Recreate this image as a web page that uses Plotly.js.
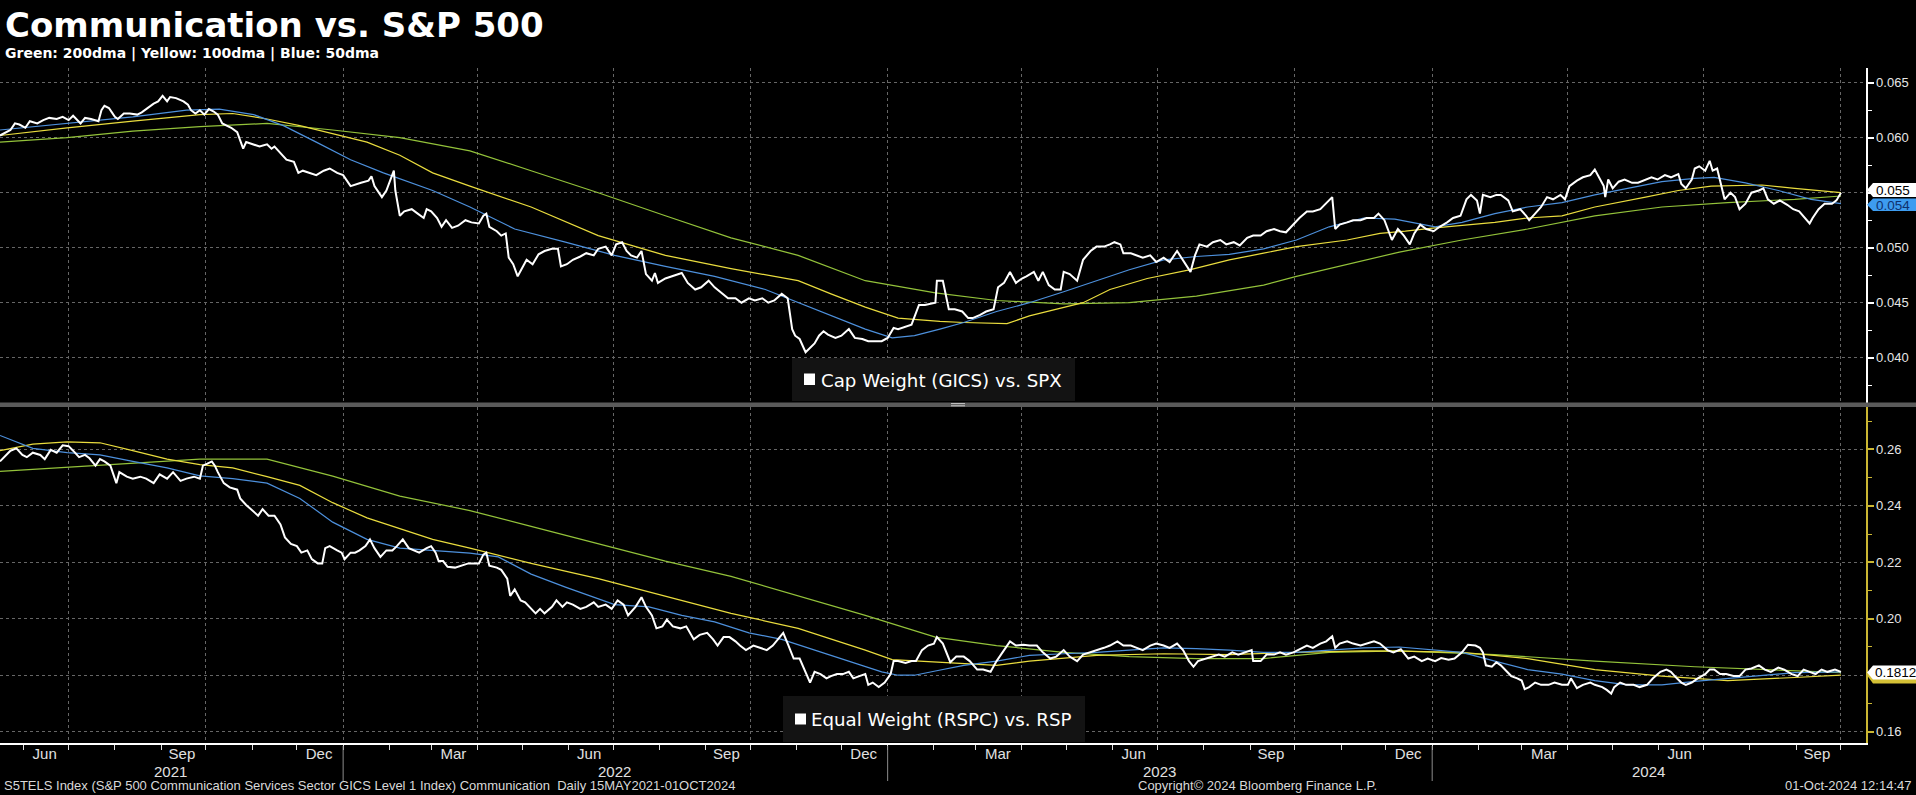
<!DOCTYPE html>
<html><head><meta charset="utf-8">
<script src="https://cdn.plot.ly/plotly-3.0.1.min.js"></script>
<style>html,body{margin:0;padding:0;background:#000;}#chart{width:1916px;height:795px;}</style>
</head><body><div id="chart"></div>
<script>
// ---------- DATA ----------
// x values are day offsets from the chart start date 2021-05-16
const START_DATE = '2021-05-16';
const END_DATE = '2024-10-17 19:00';

const topWhiteDay = [0,3,7,10,13,17,20,25,29,33,38,42,46,49,54,57,61,66,68,70,73,75,77,79,83,87,92,95,98,103,106,109,112,114,118,123,126,128,131,134,137,140,143,146,149,152,155,159,161,163,165,170,174,179,182,184,188,192,197,200,203,208,212,217,221,226,230,235,238,242,247,249,251,256,259,262,264,265,268,271,276,280,284,286,289,293,296,299,303,307,
312,316,321,324,326,328,333,336,339,341,344,347,350,353,357,361,365,370,374,376,380,384,389,393,398,401,406,410,413,417,420,423,427,430,433,437,439,441,446,450,457,461,466,470,475,479,484,488,493,497,502,506,511,515,519,524,528,531,533,536,540,543,546,549,552,555,560,564,569,573,578,582,587,591,595,599,602,607,611,616,620,
627,628,632,636,640,645,649,652,657,661,666,669,673,677,681,685,688,693,696,699,703,707,711,713,717,722,726,731,735,740,744,747,751,753,758,762,766,771,775,780,784,789,793,798,801,804,809,813,818,822,827,831,836,840,845,849,854,858,862,867,871,876,880,885,889,893,895,898,903,907,912,916,921,924,928,933,
937,941,945,948,952,956,961,965,970,974,979,983,986,990,992,994,999,1003,1006,1011,1014,1019,1023,1025,1029,1033,1037,1041,1046,1049,1052,1057,1061,1066,1069,1072,1075,1076,1078,1081,1085,1089,1094,1098,1103,1107,1111,1116,1120,1125,1127,1130,1134,1136,1139,1143,1146,1148,1151,1153,1156,1160,1163,1166,1170,1174,1179,1182,1185,1189,1193,1198,1202,1206,1210,1213,1215,1219,1223,1228,1231,1234];
const topWhiteVal = [.0602,.0604,.0607,.0613,.0612,.0609,.0615,.0613,.0616,.0618,.0617,.0619,.0616,.0620,.0613,.0618,.0617,.0615,.0625,.0629,.0627,.0623,.0619,.0617,.0622,.0622,.0621,.0623,.0626,.0631,.0633,.0638,.0633,.0637,.0636,.0633,.0630,.0625,.0622,.0625,.0621,.0626,.0624,.0621,.0613,.0611,.0609,.0605,.0598,.0590,.0596,.0594,.0592,.0594,.0590,.0592,.0586,.0580,.0578,.0568,.0570,.0568,.0566,.0570,.0572,.0568,.0566,.0556,.0557,.0559,.0561,.0565,.0556,.0546,.0552,.0562,.0570,.0552,.0529,.0533,.0535,.0531,.0527,.0535,.0533,.0527,.0519,.0525,.0518,.0520,
.0525,.0523,.0522,.0529,.0531,.0519,.0515,.0511,.0513,.0491,.0485,.0474,.0481,.0489,.0485,.0494,.0497,.0499,.0499,.0483,.0485,.0489,.0492,.0495,.0493,.0499,.0501,.0493,.0503,.0505,.0497,.0493,.0491,.0497,.0476,.0470,.0477,.0468,.0472,.0474,.0477,.0468,.0462,.0464,.0470,.0464,.0458,.0454,.0454,.0450,.0454,.0452,.0454,.0450,.0452,.0458,.0454,.0426,.0420,.0417,.0405,.0409,.0413,.0420,.0424,.0421,.0418,.0420,.0426,.0418,.0417,.0415,.0415,.0415,.0418,.0427,.0426,.0428,.0430,.0448,.0448,
.0450,.0470,.0470,.0444,.0444,.0442,.0436,.0436,.0439,.0442,.0444,.0464,.0468,.0478,.0468,.0472,.0474,.0478,.0470,.0478,.0466,.0462,.0462,.0478,.0476,.0470,.0489,.0497,.0501,.0501,.0503,.0505,.0503,.0495,.0495,.0493,.0491,.0493,.0487,.0491,.0487,.0497,.0489,.0478,.0493,.0503,.0501,.0505,.0507,.0503,.0505,.0502,.0509,.0511,.0511,.0515,.0517,.0515,.0514,.0521,.0527,.0533,.0533,.0535,.0541,.0546,.0517,.0521,.0523,.0525,.0525,.0527,.0527,.0531,.0525,.0507,
.0517,.0511,.0503,.0513,.0521,.0517,.0515,.0519,.0523,.0527,.0529,.0544,.0548,.0543,.0531,.0548,.0546,.0548,.0548,.0543,.0533,.0535,.0529,.0525,.0531,.0537,.0546,.0544,.0548,.0544,.0556,.0561,.0564,.0566,.0571,.0564,.0556,.0546,.0562,.0554,.0560,.0562,.0559,.0559,.0562,.0564,.0562,.0566,.0564,.0567,.0558,.0554,.0562,.0572,.0574,.0570,.0579,.0570,.0572,.0560,.0544,.0550,.0546,.0535,.0540,.0550,.0552,.0554,.0544,.0540,.0543,.0539,.0535,.0533,.0527,.0522,.0527,.0535,.0540,.0540,.0543,.0550];

const topBlueDay = [0,45,89,125,147,170,190,212,235,257,290,315,345,379,412,446,479,513,535,557,580,598,613,630,646,668,690,713,735,757,780,802,824,847,869,891,914,935,962,980,1002,1024,1047,1069,1091,1114,1136,1149,1170,1192,1214,1234];
const topBlueVal = [.0607,.0613,.0619,.0625,.0626,.0621,.0611,.0596,.0580,.0568,.0552,.0537,.0517,.0505,.0493,.0483,.0474,.0462,.0450,.0438,.0426,.0418,.0420,.0426,.0432,.0442,.0450,.0460,.0470,.0480,.0489,.0492,.0494,.0499,.0507,.0519,.0527,.0526,.0519,.0523,.0531,.0537,.0541,.0548,.0554,.0560,.0563,.0564,.0559,.0552,.0544,.0540];

const topYellowDay = [0,45,89,134,156,179,201,223,246,268,290,315,356,401,446,490,502,535,557,580,602,630,646,675,690,726,744,769,798,824,847,869,903,925,942,962,1002,1024,1047,1069,1103,1125,1147,1181,1203,1234];
const topYellowVal = [.0602,.0609,.0615,.0621,.0622,.0617,.0611,.0604,.0596,.0584,.0568,.0556,.0537,.0511,.0493,.0481,.0478,.0470,.0458,.0446,.0436,.0433,.0432,.0431,.0438,.0450,.0462,.0472,.0480,.0489,.0495,.0501,.0507,.0513,.0515,.0518,.0523,.0527,.0529,.0537,.0546,.0552,.0556,.0557,.0554,.0550];

const topGreenDay = [0,45,89,134,179,223,268,315,356,401,446,490,535,580,627,668,713,757,802,847,869,903,938,980,1024,1069,1114,1158,1203,1234];
const topGreenVal = [.0596,.0600,.0606,.0610,.0613,.0607,.0600,.0588,.0570,.0550,.0529,.0509,.0493,.0470,.0459,.0452,.0449,.0450,.0456,.0466,.0474,.0485,.0496,.0507,.0517,.0529,.0537,.0541,.0544,.0547];

const botWhiteDay = [0,3,7,11,15,18,22,27,30,34,38,42,46,49,53,57,60,64,67,70,74,76,78,80,85,89,94,98,103,107,112,116,121,125,130,134,136,139,142,144,146,150,154,159,161,165,170,173,176,180,184,188,191,195,199,202,206,209,213,216,218,221,226,229,231,235,238,241,245,248,251,255,259,263,266,270,274,277,281,286,289,292,294,297,300,305,309,314,
321,324,326,328,333,336,340,342,345,349,352,355,359,362,365,370,373,377,380,384,389,393,398,401,406,410,414,418,421,426,430,433,437,440,444,447,451,456,460,465,469,474,478,481,485,489,493,496,500,505,509,514,518,523,525,528,532,536,540,543,546,550,554,557,561,565,569,572,576,580,582,585,589,593,597,599,602,607,611,614,618,622,626,
628,632,637,641,646,650,655,659,664,668,673,677,681,686,690,695,699,704,708,713,717,722,726,731,735,740,744,749,753,758,762,766,771,775,780,784,789,793,797,800,803,808,812,817,821,826,830,835,839,840,845,849,854,858,862,867,871,876,880,885,889,893,895,898,903,907,912,916,921,925,930,934,
939,944,948,953,957,962,966,971,975,980,984,989,992,994,996,1000,1003,1006,1010,1013,1017,1020,1022,1025,1029,1033,1038,1042,1047,1051,1053,1057,1061,1066,1069,1074,1077,1080,1082,1086,1090,1095,1099,1104,1108,1113,1117,1120,1124,1127,1130,1134,1138,1143,1146,1149,1153,1157,1162,1166,1170,1174,1179,1183,1187,1192,1196,1201,1205,1209,1213,1217,1221,1225,1230,1234];
const botWhiteVal = [.2557,.2572,.2595,.2603,.2580,.2572,.2588,.2580,.2565,.2598,.2588,.2614,.2611,.2595,.2572,.2580,.2568,.2542,.2565,.2557,.2542,.2511,.2480,.2519,.2503,.2496,.2503,.2496,.2480,.2511,.2496,.2519,.2488,.2496,.2503,.2496,.2542,.2549,.2557,.2542,.2519,.2480,.2465,.2457,.2426,.2403,.2380,.2365,.2388,.2365,.2365,.2334,.2288,.2265,.2257,.2234,.2242,.2211,.2196,.2196,.2250,.2257,.2242,.2234,.2211,.2234,.2234,.2242,.2257,.2281,.2250,.2219,.2242,.2242,.2257,.2281,.2250,.2242,.2234,.2250,.2257,.2234,.2204,.2204,.2184,.2181,.2188,.2196,
.2196,.2227,.2234,.2188,.2181,.2173,.2142,.2081,.2104,.2065,.2058,.2042,.2019,.2035,.2019,.2042,.2065,.2042,.2058,.2050,.2035,.2042,.2058,.2042,.2050,.2035,.2065,.2050,.2012,.2042,.2076,.2042,.2012,.1966,.1973,.1997,.1973,.1966,.1973,.1927,.1943,.1950,.1927,.1905,.1935,.1935,.1920,.1905,.1889,.1905,.1897,.1889,.1905,.1935,.1950,.1912,.1859,.1859,.1812,.1774,.1812,.1804,.1789,.1797,.1804,.1804,.1812,.1789,.1797,.1804,.1766,.1774,.1758,.1774,.1804,.1850,.1850,.1843,.1850,.1850,.1889,.1905,.1912,
.1935,.1912,.1846,.1866,.1866,.1850,.1820,.1820,.1812,.1850,.1889,.1920,.1905,.1908,.1905,.1905,.1881,.1859,.1866,.1889,.1866,.1850,.1873,.1881,.1889,.1897,.1905,.1920,.1905,.1905,.1897,.1889,.1905,.1912,.1905,.1897,.1912,.1889,.1850,.1830,.1850,.1859,.1866,.1873,.1866,.1881,.1873,.1881,.1889,.1850,.1850,.1873,.1873,.1881,.1873,.1881,.1892,.1905,.1897,.1912,.1920,.1938,.1897,.1912,.1920,.1912,.1905,.1912,.1920,.1912,.1889,.1881,
.1892,.1859,.1866,.1850,.1859,.1850,.1861,.1855,.1859,.1881,.1908,.1905,.1897,.1881,.1835,.1830,.1846,.1835,.1812,.1797,.1789,.1781,.1751,.1758,.1774,.1766,.1766,.1774,.1766,.1766,.1789,.1754,.1766,.1774,.1766,.1758,.1748,.1735,.1758,.1774,.1766,.1766,.1758,.1766,.1789,.1812,.1820,.1812,.1789,.1774,.1766,.1774,.1789,.1804,.1820,.1820,.1804,.1804,.1797,.1797,.1820,.1824,.1835,.1820,.1812,.1827,.1820,.1804,.1797,.1820,.1812,.1804,.1820,.1812,.1820,.1812];

const botBlueDay = [0,22,45,67,89,112,134,156,179,201,223,246,268,290,315,334,356,379,412,435,457,479,502,524,546,569,591,602,613,627,646,668,690,713,735,757,780,802,824,847,869,891,914,938,957,980,1002,1024,1047,1069,1091,1114,1136,1158,1181,1203,1234];
const botBlueVal = [.2649,.2603,.2588,.2580,.2557,.2534,.2506,.2496,.2480,.2426,.2342,.2281,.2250,.2242,.2232,.2219,.2158,.2112,.2050,.2042,.2012,.1989,.1950,.1927,.1889,.1850,.1812,.1800,.1800,.1815,.1835,.1850,.1870,.1876,.1881,.1889,.1897,.1894,.1889,.1881,.1881,.1889,.1897,.1900,.1892,.1881,.1850,.1820,.1804,.1781,.1766,.1766,.1778,.1789,.1800,.1809,.1812];

const botYellowDay = [0,22,45,67,89,112,134,156,179,201,223,246,268,290,315,356,401,446,490,535,580,598,627,668,690,713,735,780,824,869,914,938,980,1024,1069,1114,1158,1203,1234];
const botYellowVal = [.2595,.2618,.2626,.2623,.2595,.2565,.2546,.2534,.2503,.2472,.2411,.2357,.2319,.2281,.2250,.2196,.2142,.2081,.2019,.1966,.1889,.1855,.1846,.1835,.1850,.1861,.1870,.1876,.1873,.1881,.1886,.1885,.1881,.1859,.1820,.1797,.1781,.1792,.1800];

const botGreenDay = [0,45,89,134,179,223,268,315,356,401,446,490,535,580,627,668,713,757,802,847,891,938,1002,1069,1136,1181,1234];
const botGreenVal = [.2522,.2537,.2552,.2565,.2565,.2505,.2434,.2383,.2327,.2265,.2204,.2150,.2081,.2012,.1935,.1905,.1881,.1866,.1859,.1859,.1881,.1886,.1873,.1850,.1830,.1820,.1809];

// axis labels
const quarterTicks = ['2021-07-01','2021-10-01','2022-01-01','2022-04-01','2022-07-01','2022-10-01','2023-01-01','2023-04-01','2023-07-01','2023-10-01','2024-01-01','2024-04-01','2024-07-01','2024-10-01'];
const monthLabels = ['Jun','Sep','Dec','Mar','Jun','Sep','Dec','Mar','Jun','Sep','Dec','Mar','Jun','Sep'];
const yearLabels = ['2021','2022','2023','2024'];
const yearLabelDates = ['2021-09-07','2022-07-02','2023-07-02','2024-05-25'];
const yearBreaks = ['2022-01-01','2023-01-01','2024-01-01'];
const topTickVals = [0.040,0.045,0.050,0.055,0.060,0.065];
const topTickText = ['0.040','0.045','0.050','','0.060','0.065'];   // 0.055 is covered by the last-value tag
const botTickVals = [0.16,0.18,0.20,0.22,0.24,0.26];
const botTickText = ['0.16','','0.20','0.22','0.24','0.26'];        // 0.18 is covered by the last-value tag
const lastValues = {top:'0.055', topBlue:'0.054', bottom:'0.1812'};

// ---------- helpers ----------
const startMs = Date.parse(START_DATE + 'T00:00:00Z');
const toDates = days => days.map(d => new Date(startMs + d*86400000).toISOString().slice(0,10));

const W=1916, H=795, ML=0, MR=50, MT=68, MB=52;
const PW=W-ML-MR, PH=H-MT-MB;
const px = x => (x-ML)/PW;
const py = y => (H-MB-y)/PH;

const C = {white:'#ffffff', blue:'#4d90dc', yellow:'#e9dc3e', green:'#93c23a', grid:'#666666', yaxis2:'#cbb733'};

function line(days, vals, color, width, xa, ya){
  return {type:'scatter', mode:'lines', x:toDates(days), y:vals, xaxis:xa, yaxis:ya,
    line:{color:color, width:width}, hoverinfo:'skip', showlegend:false};
}

const data = [
  line(topGreenDay, topGreenVal, C.green, 1.2, 'x', 'y'),
  line(topYellowDay, topYellowVal, C.yellow, 1.2, 'x', 'y'),
  line(topBlueDay, topBlueVal, C.blue, 1.2, 'x', 'y'),
  line(topWhiteDay, topWhiteVal, C.white, 2, 'x', 'y'),
  line(botGreenDay, botGreenVal, C.green, 1.2, 'x2', 'y2'),
  line(botYellowDay, botYellowVal, C.yellow, 1.2, 'x2', 'y2'),
  line(botBlueDay, botBlueVal, C.blue, 1.2, 'x2', 'y2'),
  line(botWhiteDay, botWhiteVal, C.white, 2, 'x2', 'y2')
];

const tickFont = {family:'Liberation Sans, Arial, sans-serif', size:13, color:'#e6e6e6'};
const axFont = {family:'Liberation Sans, Arial, sans-serif', size:15, color:'#e0e0e0'};
const footFont = {family:'Liberation Sans, Arial, sans-serif', size:13, color:'#d9d9d9'};
const xRange = [START_DATE, END_DATE];

const shapes = [];
// separator between panels
shapes.push({type:'rect', xref:'paper', yref:'paper', x0:px(0), x1:px(W), y0:py(407), y1:py(402.5), fillcolor:'#5a5a5a', line:{width:0}, layer:'above'});
shapes.push({type:'line', xref:'paper', yref:'paper', x0:px(951), x1:px(965), y0:py(403.6), y1:py(403.6), line:{color:'#c8c8c8', width:1}, layer:'above'});
shapes.push({type:'line', xref:'paper', yref:'paper', x0:px(951), x1:px(965), y0:py(405.8), y1:py(405.8), line:{color:'#c8c8c8', width:1}, layer:'above'});
// legend boxes
shapes.push({type:'rect', xref:'paper', yref:'paper', x0:px(792), x1:px(1075), y0:py(401), y1:py(358), fillcolor:'#131313', line:{width:0}, layer:'above'});
shapes.push({type:'rect', xref:'paper', yref:'paper', x0:px(804), x1:px(815), y0:py(385), y1:py(373.5), fillcolor:'#ffffff', line:{width:0}, layer:'above'});
shapes.push({type:'rect', xref:'paper', yref:'paper', x0:px(783), x1:px(1085), y0:py(742), y1:py(696), fillcolor:'#131313', line:{width:0}, layer:'above'});
shapes.push({type:'rect', xref:'paper', yref:'paper', x0:px(795), x1:px(806), y0:py(724.5), y1:py(713.5), fillcolor:'#ffffff', line:{width:0}, layer:'above'});
// year separators below the axis
yearBreaks.forEach(d => shapes.push({type:'line', xref:'x2', yref:'paper', x0:d, x1:d, y0:py(746), y1:py(781), line:{color:'#8c8c8c', width:1}}));
// last value tags
function tag(yTop, yBot, color){
  const ym=(yTop+yBot)/2, xt=1867, xs=1873, xr=W;
  return {type:'path', xref:'paper', yref:'paper', fillcolor:color, line:{width:0}, layer:'above',
    path:`M${px(xt)},${py(ym)} L${px(xs)},${py(yTop)} L${px(xr)},${py(yTop)} L${px(xr)},${py(yBot)} L${px(xs)},${py(yBot)} Z`};
}
shapes.push(tag(183, 197, '#ffffff'));
shapes.push(tag(198.5, 211, '#3d9cf0'));
shapes.push(tag(667, 683.5, '#d4c035'));
shapes.push(tag(665.5, 679.5, '#ffffff'));

const annotations = [
  {xref:'paper', yref:'paper', x:px(3), y:py(25), xanchor:'left', yanchor:'middle', showarrow:false,
   text:'<b>Communication vs. S&amp;P 500</b>', font:{family:'DejaVu Sans, sans-serif', size:34, color:'#ffffff'}},
  {xref:'paper', yref:'paper', x:px(3), y:py(53), xanchor:'left', yanchor:'middle', showarrow:false,
   text:'<b>Green: 200dma | Yellow: 100dma | Blue: 50dma</b>', font:{family:'DejaVu Sans, sans-serif', size:14, color:'#ffffff'}},
  {xref:'paper', yref:'paper', x:px(819), y:py(380), xanchor:'left', yanchor:'middle', showarrow:false,
   text:'Cap Weight (GICS) vs. SPX', font:{family:'DejaVu Sans, sans-serif', size:18.2, color:'#ffffff'}},
  {xref:'paper', yref:'paper', x:px(809), y:py(719.5), xanchor:'left', yanchor:'middle', showarrow:false,
   text:'Equal Weight (RSPC) vs. RSP', font:{family:'DejaVu Sans, sans-serif', size:18.2, color:'#ffffff'}},
  {xref:'paper', yref:'paper', x:px(2), y:py(786), xanchor:'left', yanchor:'middle', showarrow:false,
   text:'S5TELS Index (S&amp;P 500 Communication Services Sector GICS Level 1 Index) Communication&nbsp;&nbsp;Daily 15MAY2021-01OCT2024', font:footFont},
  {xref:'paper', yref:'paper', x:px(1257), y:py(786), xanchor:'center', yanchor:'middle', showarrow:false,
   text:'Copyright© 2024 Bloomberg Finance L.P.', font:footFont},
  {xref:'paper', yref:'paper', x:px(1913), y:py(786), xanchor:'right', yanchor:'middle', showarrow:false,
   text:'01-Oct-2024 12:14:47', font:footFont},
  {xref:'paper', yref:'paper', x:px(1874), y:py(190), xanchor:'left', yanchor:'middle', showarrow:false,
   text:lastValues.top, font:{family:'Liberation Sans, Arial, sans-serif', size:13.5, color:'#000000'}},
  {xref:'paper', yref:'paper', x:px(1874), y:py(205), xanchor:'left', yanchor:'middle', showarrow:false,
   text:lastValues.topBlue, font:{family:'Liberation Sans, Arial, sans-serif', size:13.5, color:'#10316e'}},
  {xref:'paper', yref:'paper', x:px(1873), y:py(672.5), xanchor:'left', yanchor:'middle', showarrow:false,
   text:lastValues.bottom, font:{family:'Liberation Sans, Arial, sans-serif', size:13.5, color:'#000000'}}
];
yearLabels.forEach((t,i) => annotations.push({xref:'x2', yref:'paper', x:yearLabelDates[i], y:py(771), xanchor:'center', yanchor:'middle', showarrow:false,
  text:t, font:axFont}));

const layout = {
  width:W, height:H, margin:{l:ML, r:MR, t:MT, b:MB, pad:0},
  paper_bgcolor:'#000000', plot_bgcolor:'#000000', showlegend:false, hovermode:false,
  xaxis:{domain:[0,1], anchor:'y', type:'date', range:xRange, matches:'x2',
    tickmode:'array', tickvals:quarterTicks, showticklabels:false, ticks:'',
    showgrid:true, gridcolor:C.grid, griddash:'dot', gridwidth:1, zeroline:false, showline:false},
  xaxis2:{domain:[0,1], anchor:'y2', type:'date', range:xRange,
    tickmode:'array', tickvals:quarterTicks, ticktext:monthLabels, ticklabelshift:-24, ticklabelstandoff:-9,
    ticks:'outside', ticklen:5, tickwidth:1, tickcolor:'#dddddd',
    tickfont:axFont,
    showgrid:true, gridcolor:C.grid, griddash:'dot', gridwidth:1, zeroline:false,
    showline:true, linecolor:'#ffffff', linewidth:1.5,
    minor:{tick0:'2021-01-01', dtick:'M1', ticks:'outside', ticklen:5, tickwidth:1, tickcolor:'#dddddd', showgrid:false}},
  yaxis:{domain:[py(403),1], anchor:'x', side:'right', range:[0.035882,0.066336],
    tickmode:'array', tickvals:topTickVals, ticktext:topTickText,
    ticks:'outside', ticklen:6, tickwidth:2, tickcolor:'#ffffff', tickfont:tickFont,
    showline:true, linecolor:'#ffffff', linewidth:1.5,
    showgrid:true, gridcolor:C.grid, griddash:'dot', gridwidth:1, zeroline:false,
    minor:{tick0:0.04, dtick:0.0025, ticks:'outside', ticklen:4, tickwidth:1, tickcolor:'#ffffff', showgrid:false}},
  yaxis2:{domain:[0,py(407)], anchor:'x2', side:'right', range:[0.1560,0.27497],
    tickmode:'array', tickvals:botTickVals, ticktext:botTickText,
    ticks:'outside', ticklen:6, tickwidth:2, tickcolor:C.yaxis2, tickfont:tickFont,
    showline:true, linecolor:C.yaxis2, linewidth:1.5,
    showgrid:true, gridcolor:C.grid, griddash:'dot', gridwidth:1, zeroline:false,
    minor:{tick0:0.16, dtick:0.01, ticks:'outside', ticklen:4, tickwidth:1, tickcolor:C.yaxis2, showgrid:false}},
  shapes:shapes,
  annotations:annotations
};

Plotly.newPlot('chart', data, layout, {displayModeBar:false, staticPlot:true});
</script>
</body></html>
